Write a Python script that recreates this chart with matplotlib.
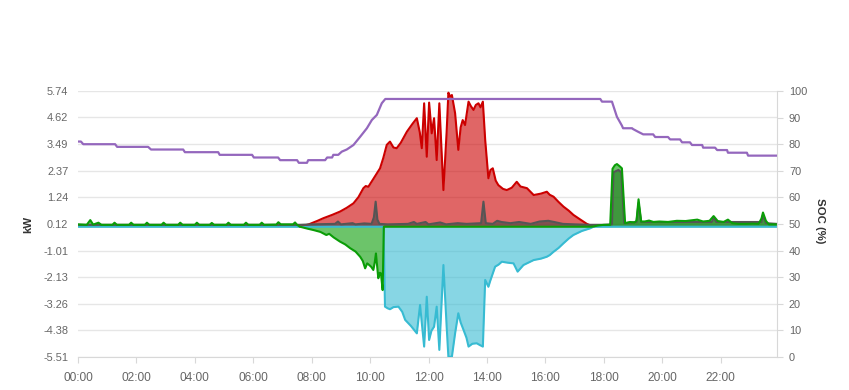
import matplotlib.pyplot as plt

plt.rcParams['font.family'] = ['Liberation Sans', 'DejaVu Sans']

# axes
hour_ticks = [0, 2, 4, 6, 8, 10, 12, 14, 16, 18, 20, 22]
hour_labels = ['00:00', '02:00', '04:00', '06:00', '08:00', '10:00',
               '12:00', '14:00', '16:00', '18:00', '20:00', '22:00']
kw_ticks = [-5.51, -4.38, -3.26, -2.13, -1.01, 0.12, 1.24, 2.37, 3.49, 4.62, 5.74]
soc_ticks = [0, 10, 20, 30, 40, 50, 60, 70, 80, 90, 100]

# PV production (kW, red)
pv_t = [7.60, 7.90, 8.20, 8.40, 8.70, 8.97, 9.20, 9.43, 9.60, 9.77, 9.85, 9.94,
        10.10, 10.34, 10.45, 10.57, 10.68, 10.80, 10.91, 11.05, 11.26, 11.45,
        11.60, 11.70, 11.77, 11.85, 11.94, 12.02, 12.11, 12.19, 12.28, 12.37,
        12.51, 12.62, 12.68, 12.74, 12.80, 12.91, 13.02, 13.10, 13.17, 13.25,
        13.37, 13.45, 13.54, 13.62, 13.71, 13.78, 13.86, 13.94, 14.05, 14.12,
        14.20, 14.30, 14.39, 14.55, 14.68, 14.85, 15.02, 15.15, 15.37, 15.60,
        15.85, 16.05, 16.15, 16.28, 16.45, 16.62, 16.80, 16.96, 17.20, 17.42, 17.65]
pv_kw = [0.00, 0.10, 0.25, 0.36, 0.50, 0.64, 0.80, 0.99, 1.25, 1.63, 1.72, 1.69,
         2.00, 2.47, 2.90, 3.46, 3.60, 3.35, 3.32, 3.55, 4.02, 4.35,
         4.59, 4.00, 3.32, 5.22, 2.96, 5.25, 3.95, 4.59, 2.82, 5.22,
         1.55, 4.00, 5.67, 5.50, 5.57, 4.80, 3.25, 4.20, 4.51, 4.30,
         5.29, 5.10, 4.94, 5.15, 5.22, 5.05, 5.29, 3.67, 2.05, 2.40,
         2.47, 1.95, 1.76, 1.60, 1.55, 1.65, 1.90, 1.70, 1.63, 1.34,
         1.40, 1.48, 1.35, 1.27, 1.05, 0.85, 0.68, 0.50, 0.30, 0.12, 0.00]

# grid export (kW, negative, cyan)
ex_t = [0.00, 10.46, 10.51, 10.60, 10.68, 10.80, 10.97, 11.10, 11.20, 11.40, 11.60,
        11.71, 11.85, 11.94, 12.02, 12.10, 12.19, 12.28, 12.37, 12.51, 12.62,
        12.68, 12.80, 12.91, 13.02, 13.10, 13.20, 13.30, 13.37, 13.50, 13.65,
        13.75, 13.86, 13.94, 14.05, 14.11, 14.28, 14.40, 14.51, 14.70, 14.91,
        15.05, 15.25, 15.45, 15.60, 15.85, 16.05, 16.15, 16.28, 16.45, 16.62,
        16.80, 16.96, 17.25, 17.53, 17.65, 23.92]
ex_kw = [0.00, 0.00, -3.38, -3.45, -3.49, -3.40, -3.38, -3.60, -3.94, -4.20, -4.51,
         -3.31, -5.07, -2.96, -4.79, -4.40, -4.23, -3.38, -5.21, -1.62, -4.20,
         -5.50, -5.50, -4.51, -3.66, -4.05, -4.37, -4.70, -5.07, -4.95, -4.93,
         -5.00, -5.07, -2.25, -2.54, -2.30, -1.69, -1.60, -1.48, -1.52, -1.55,
         -1.90, -1.62, -1.50, -1.41, -1.35, -1.27, -1.20, -1.06, -0.90, -0.70,
         -0.50, -0.35, -0.18, -0.07, 0.00, 0.00]

# battery (kW, + discharge / - charge, green)
battery = [
    (0.00, 0.10), (0.30, 0.08), (0.42, 0.28), (0.52, 0.09), (0.70, 0.17), (0.80, 0.08),
    (1.18, 0.08), (1.25, 0.17), (1.33, 0.08), (1.75, 0.08), (1.82, 0.17), (1.90, 0.08),
    (2.29, 0.08), (2.36, 0.17), (2.44, 0.08), (2.86, 0.08), (2.93, 0.17), (3.01, 0.08),
    (3.43, 0.08), (3.50, 0.17), (3.58, 0.08), (4.00, 0.08), (4.07, 0.17), (4.15, 0.08),
    (4.51, 0.08), (4.58, 0.16), (4.66, 0.08), (5.08, 0.08), (5.15, 0.17), (5.23, 0.08),
    (5.68, 0.08), (5.75, 0.17), (5.83, 0.08), (6.22, 0.08), (6.29, 0.17), (6.37, 0.08),
    (6.79, 0.09), (6.86, 0.19), (6.94, 0.10), (7.36, 0.10), (7.43, 0.18), (7.50, 0.08),
    (7.60, 0.00), (7.85, -0.08), (8.06, -0.14), (8.30, -0.22), (8.50, -0.35), (8.60, -0.30),
    (8.75, -0.45), (8.97, -0.63), (9.15, -0.75), (9.32, -0.91), (9.50, -1.05), (9.66, -1.27),
    (9.75, -1.45), (9.83, -1.76), (9.90, -1.55), (9.97, -1.62), (10.04, -1.70), (10.11, -1.83),
    (10.16, -1.50), (10.20, -1.13), (10.28, -2.18), (10.33, -1.95), (10.37, -1.97),
    (10.43, -2.68), (10.47, 0.00), (17.60, 0.00), (17.80, 0.05), (18.00, 0.08),
    (18.22, 0.08), (18.30, 2.45), (18.38, 2.60), (18.45, 2.65), (18.55, 2.55), (18.62, 2.47),
    (18.73, 0.15), (18.90, 0.20), (19.05, 0.18), (19.12, 0.25), (19.19, 1.16), (19.28, 0.22),
    (19.40, 0.22), (19.55, 0.26), (19.70, 0.20), (19.90, 0.22), (20.20, 0.20), (20.50, 0.25),
    (20.80, 0.24), (21.20, 0.30), (21.40, 0.22), (21.62, 0.25), (21.76, 0.45), (21.90, 0.24),
    (22.10, 0.20), (22.25, 0.30), (22.40, 0.15), (22.60, 0.12), (22.90, 0.12), (23.10, 0.13),
    (23.30, 0.12), (23.40, 0.35), (23.45, 0.60), (23.55, 0.25), (23.65, 0.10), (23.92, 0.10),
]

# house load (kW, gray)
load = [
    (0.00, 0.08), (7.60, 0.08), (8.00, 0.10), (8.80, 0.12), (8.90, 0.22), (9.00, 0.10),
    (9.40, 0.15), (9.50, 0.10), (9.80, 0.14), (10.05, 0.12), (10.13, 0.40), (10.19, 1.06),
    (10.25, 0.30), (10.32, 0.12), (10.60, 0.10), (11.30, 0.12), (11.50, 0.20), (11.60, 0.12),
    (11.90, 0.20), (12.00, 0.10), (12.40, 0.18), (12.60, 0.10), (13.00, 0.15), (13.30, 0.12),
    (13.80, 0.15), (13.88, 1.06), (13.96, 0.15), (14.20, 0.12), (14.35, 0.25), (14.50, 0.20),
    (14.80, 0.15), (15.10, 0.20), (15.50, 0.12), (15.80, 0.22), (16.10, 0.25), (16.30, 0.20),
    (16.60, 0.12), (17.00, 0.10), (17.50, 0.08), (18.00, 0.08), (18.28, 0.10), (18.33, 2.30),
    (18.50, 2.40), (18.60, 2.30), (18.70, 0.15), (19.12, 0.20), (19.19, 1.00), (19.28, 0.20),
    (21.70, 0.20), (21.76, 0.40), (21.85, 0.20), (23.40, 0.20), (23.45, 0.50), (23.55, 0.15),
    (23.92, 0.12),
]

# battery state of charge (%, purple)
soc = [
    (0.00, 81), (0.10, 81), (0.18, 80), (1.27, 80), (1.34, 79), (2.40, 79), (2.50, 78),
    (3.60, 78), (3.66, 77), (4.80, 77), (4.85, 76), (5.96, 76), (6.02, 75), (6.85, 75),
    (6.92, 74), (7.50, 74), (7.56, 73), (7.84, 73), (7.88, 74), (8.46, 74), (8.53, 75),
    (8.70, 75), (8.74, 76), (8.91, 76), (9.03, 77.2), (9.20, 78), (9.43, 79.7), (9.66, 82.8),
    (9.89, 86), (10.06, 89.1), (10.23, 91), (10.40, 95.4), (10.52, 97), (17.88, 97),
    (17.94, 96), (18.28, 96), (18.45, 90.3), (18.62, 87), (18.66, 86), (18.97, 86),
    (19.00, 85.7), (19.17, 84.7), (19.35, 83.7), (19.69, 83.7), (19.76, 82.7), (20.20, 82.7),
    (20.27, 81.8), (20.61, 81.8), (20.68, 80.7), (20.95, 80.7), (21.02, 79.7), (21.37, 79.7),
    (21.40, 78.7), (21.81, 78.7), (21.88, 77.8), (22.22, 77.8), (22.25, 76.8), (22.90, 76.8),
    (22.94, 75.7), (23.93, 75.7),
]

bat_t, bat_kw = zip(*battery)
load_t, load_kw = zip(*load)
soc_t, soc_pct = zip(*soc)

RED = '#cc0000'
CYAN = '#37bbd2'
GREEN = '#0a9d07'
GRAY = '#444444'
PURPLE = '#9467bd'
AXIS = '#d8d8d8'
LABEL = '#666666'

fig = plt.figure(figsize=(8.49, 3.9), dpi=100)
ax = fig.add_axes([78 / 849, 33 / 390, 699 / 849, 266 / 390])
ax2 = ax.twinx()

ax.fill_between(pv_t, pv_kw, 0, color=RED, alpha=0.6, lw=0, zorder=2)
ax.fill_between(ex_t, ex_kw, 0, color=CYAN, alpha=0.6, lw=0, zorder=2)
ax.fill_between(load_t, load_kw, 0, color=GRAY, alpha=0.6, lw=0, zorder=3)
ax.fill_between(bat_t, bat_kw, 0, color=GREEN, alpha=0.6, lw=0, zorder=4)
ax.plot(pv_t, pv_kw, color=RED, lw=1.5, zorder=5)
ax.plot(ex_t, ex_kw, color=CYAN, lw=1.5, zorder=5)
ax.plot(load_t, load_kw, color='#555555', lw=1.5, zorder=6)
ax.plot(bat_t, bat_kw, color=GREEN, lw=1.5, zorder=7)
ax2.plot(soc_t, soc_pct, color=PURPLE, lw=1.6, zorder=8)

ax.set_xlim(0, 23.93)
ax.set_ylim(-5.51, 5.74)
ax2.set_ylim(0, 100)

ax.set_xticks(hour_ticks)
ax.set_xticklabels(hour_labels)
ax.set_yticks(kw_ticks)
ax.set_yticklabels([f'{v:.2f}' for v in kw_ticks])
ax2.set_yticks(soc_ticks)

ax.grid(axis='y', color='#e6e6e6', lw=1)
ax.set_axisbelow(True)

for s in ['left', 'top', 'right']:
    ax.spines[s].set_visible(False)
ax.spines['bottom'].set_color(AXIS)
for s in ['left', 'top', 'bottom']:
    ax2.spines[s].set_visible(False)
ax2.spines['right'].set_color(AXIS)

ax.tick_params(axis='y', length=0, labelsize=7.9, labelcolor=LABEL, pad=7)
ax.tick_params(axis='x', length=4.5, color=AXIS, labelsize=8.6, labelcolor=LABEL, pad=6)
ax2.tick_params(axis='y', length=4.3, color=AXIS, labelsize=7.9, labelcolor=LABEL, pad=4.3)

fig.text(28 / 849, 1 - 224 / 390, 'kW', rotation=90, ha='center', va='center',
         fontsize=8.2, fontweight='bold', color='#333333')
fig.text(820 / 849, 1 - 221 / 390, 'SOC (%)', rotation=270, ha='center', va='center',
         fontsize=8.2, fontweight='bold', color='#333333')

fig.savefig('out.png', dpi=100)
